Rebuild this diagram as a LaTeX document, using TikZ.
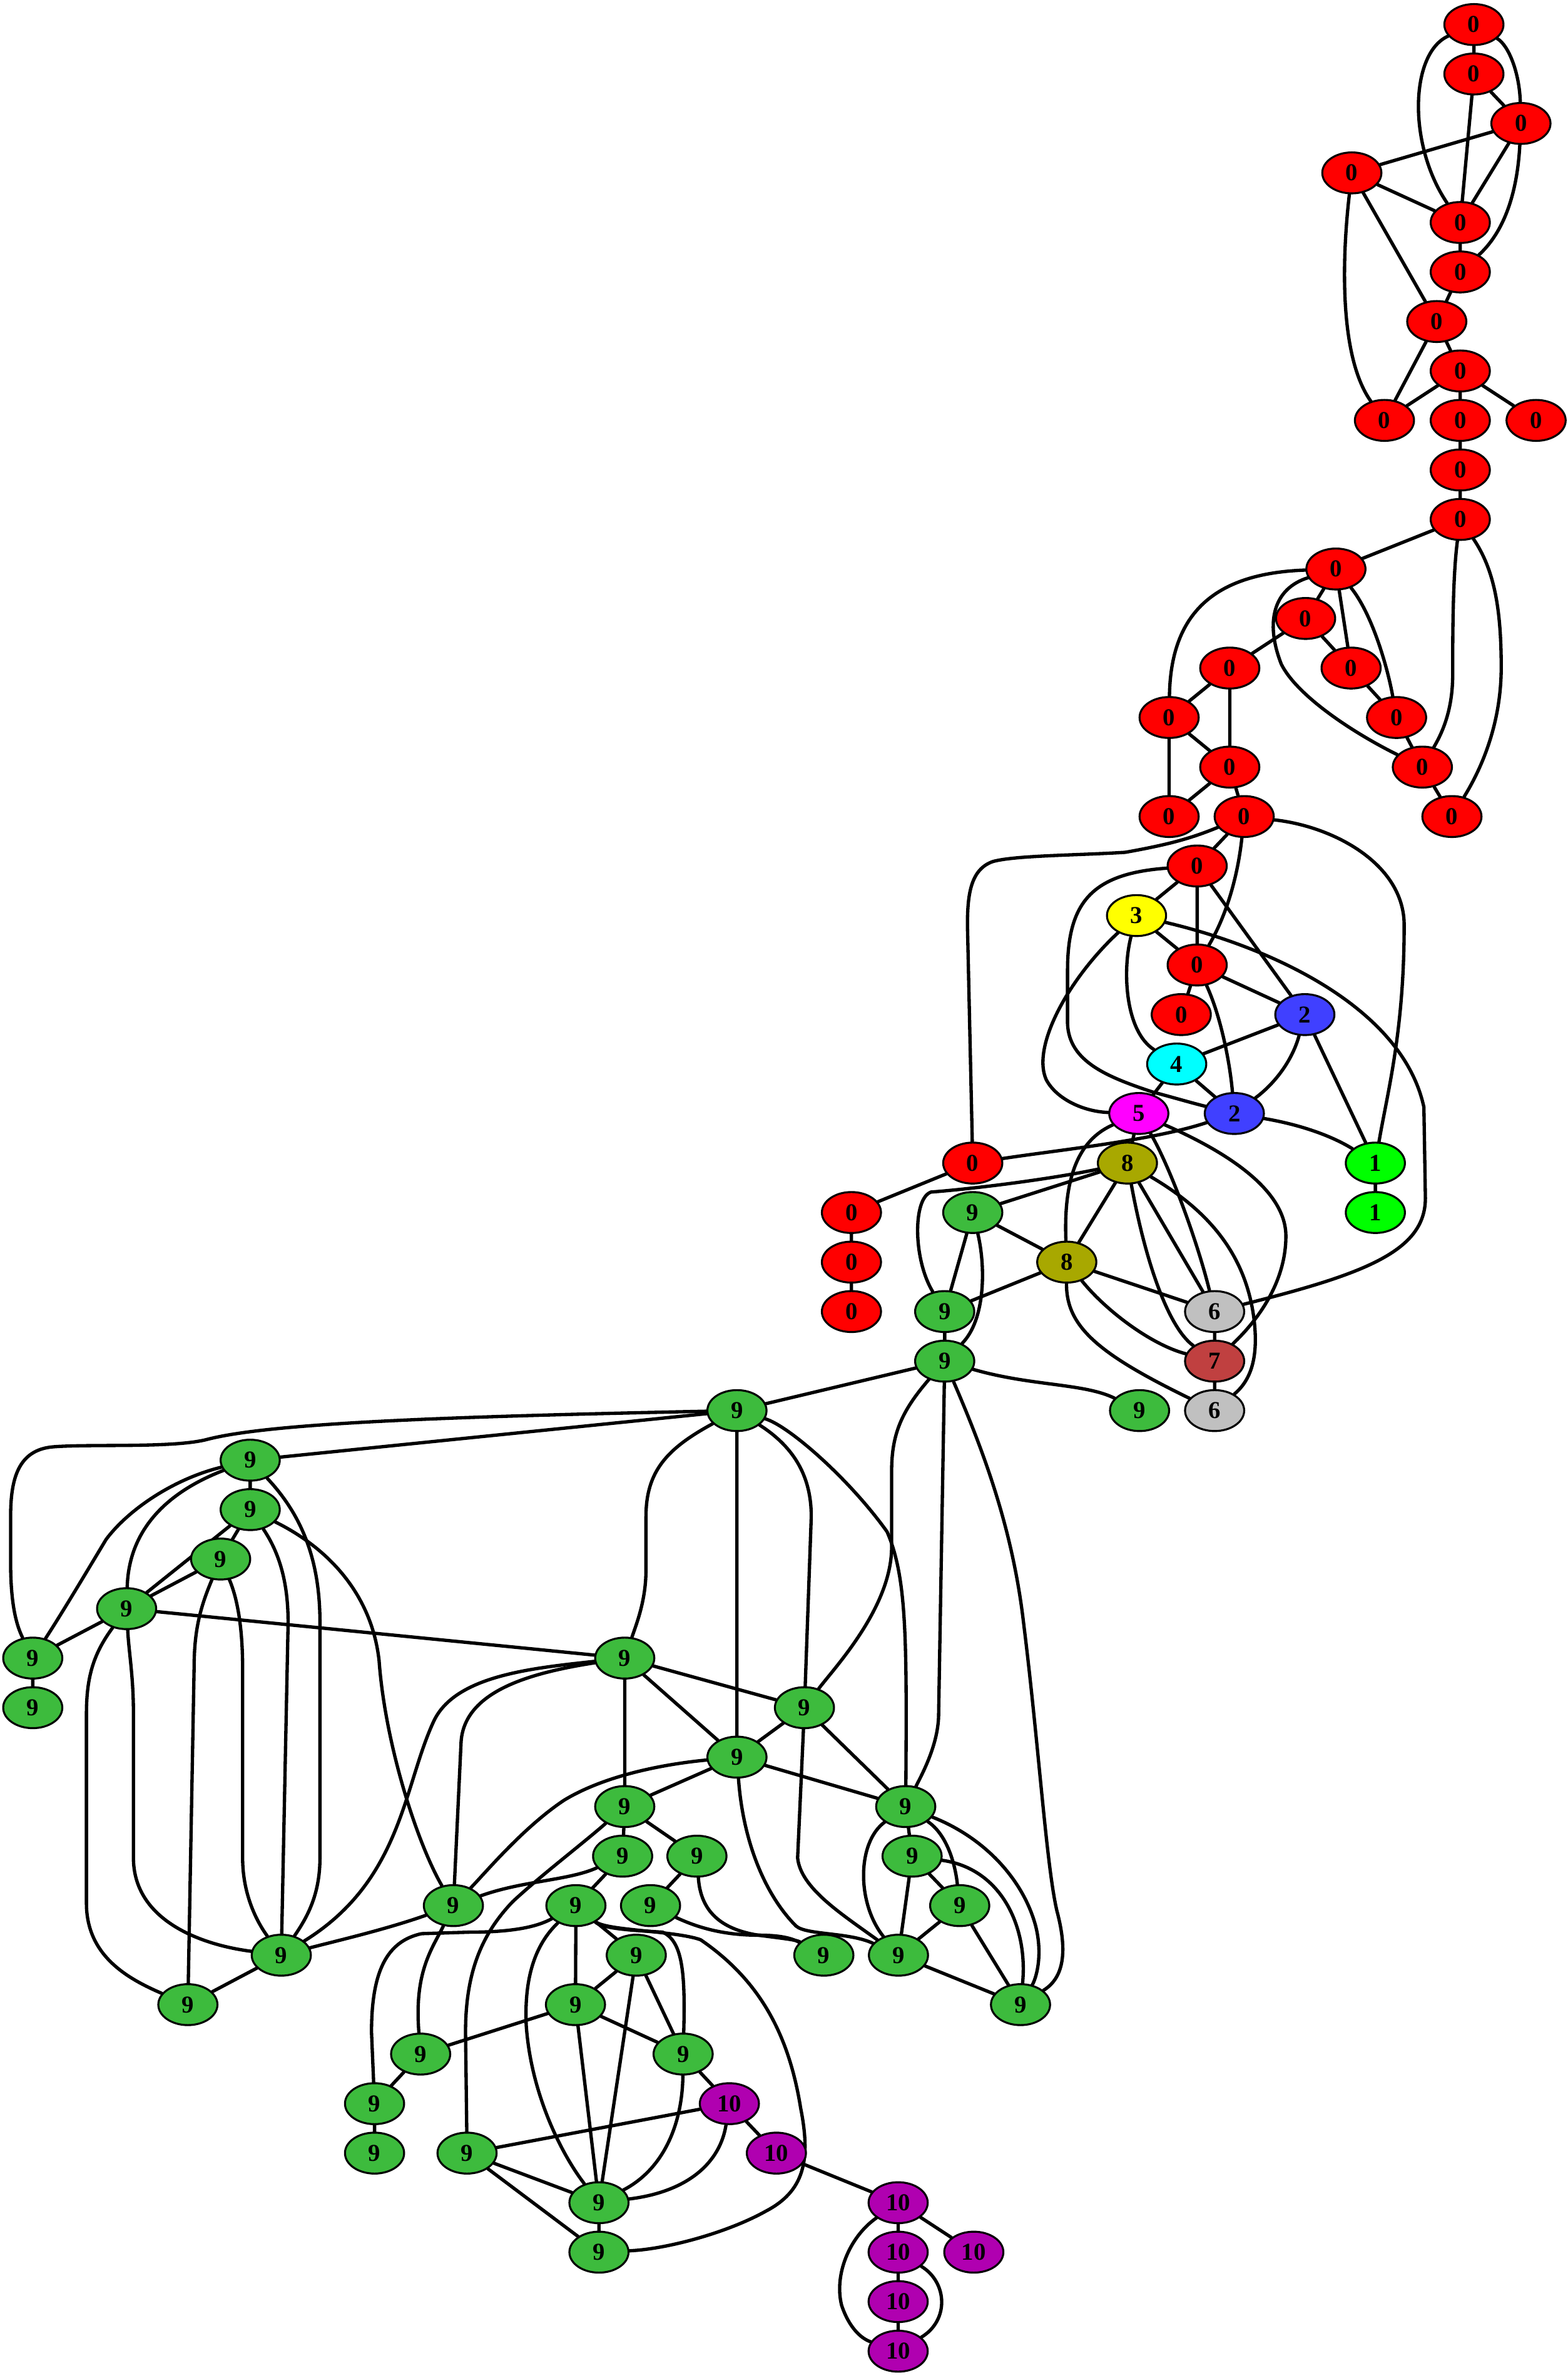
\documentclass[tikz,border=0pt]{standalone}
\usepackage{fontspec}
\setmainfont{Liberation Serif}
\usetikzlibrary{shapes.geometric}
\pgfdeclarelayer{bg}
\pgfsetlayers{bg,main}
\definecolor{cRed}{RGB}{255,0,0}
\definecolor{cYel}{RGB}{255,255,0}
\definecolor{cBlue}{RGB}{64,64,255}
\definecolor{cCyan}{RGB}{0,255,255}
\definecolor{cMag}{RGB}{255,0,255}
\definecolor{cOlive}{RGB}{168,168,0}
\definecolor{cLime}{RGB}{0,255,0}
\definecolor{cGray}{RGB}{192,192,192}
\definecolor{cBrown}{RGB}{192,64,64}
\definecolor{cGreen}{RGB}{61,187,61}
\definecolor{cPurp}{RGB}{176,0,176}
\tikzset{
 nd/.style={ellipse, draw=black, line width=1.3pt, minimum width=39pt, minimum height=27pt, inner sep=0pt, font=\fontsize{16}{16}\selectfont\bfseries},
 nred/.style={nd, fill=cRed},
 nyel/.style={nd, fill=cYel},
 nblue/.style={nd, fill=cBlue},
 ncyan/.style={nd, fill=cCyan},
 nmag/.style={nd, fill=cMag},
 nolive/.style={nd, fill=cOlive},
 nlime/.style={nd, fill=cLime},
 ngray/.style={nd, fill=cGray},
 nbrown/.style={nd, fill=cBrown},
 ngreen/.style={nd, fill=cGreen},
 npurp/.style={nd, fill=cPurp},
 e/.style={line width=2.2pt, line cap=round, line join=round}
}
\begin{document}
\begin{tikzpicture}[x=1pt,y=-1pt]
\useasboundingbox (0,0) rectangle (1034,1568);
% nodes
\node[nred] (A1) at (972,16.2) {0};
\node[nred] (A2) at (972,48.8) {0};
\node[nred] (A3) at (1003,81.4) {0};
\node[nred] (A4) at (891.5,114) {0};
\node[nred] (A5) at (963,146.7) {0};
\node[nred] (A6) at (963,179.3) {0};
\node[nred] (A7) at (947.5,212) {0};
\node[nred] (A8) at (963,244.6) {0};
\node[nred] (A9) at (913,277.2) {0};
\node[nred] (A10) at (963,277.2) {0};
\node[nred] (A11) at (1013,277.2) {0};
\node[nred] (A12) at (963,309.9) {0};
\node[nred] (A13) at (963,342.5) {0};
\node[nred] (B1) at (881,375.2) {0};
\node[nred] (B2) at (861,407.8) {0};
\node[nred] (B3) at (891,440.5) {0};
\node[nred] (B4) at (811,440.5) {0};
\node[nred] (B5) at (921,473.1) {0};
\node[nred] (B6) at (771,473.1) {0};
\node[nred] (B7) at (811,505.8) {0};
\node[nred] (B8) at (938,505.8) {0};
\node[nred] (B9) at (771,538.4) {0};
\node[nred] (B10) at (820.5,538.4) {0};
\node[nred] (B11) at (957.5,538.4) {0};
\node[nred] (C1) at (789.5,571) {0};
\node[nyel] (C2) at (749.5,603.7) {3};
\node[nred] (C3) at (789.5,636.3) {0};
\node[nred] (C4) at (779,669) {0};
\node[nblue] (C5) at (860.5,669) {2};
\node[ncyan] (C6) at (776,701.6) {4};
\node[nmag] (C7) at (751,734.2) {5};
\node[nblue] (C8) at (814,734.2) {2};
\node[nred] (C9) at (641.5,766.9) {0};
\node[nolive] (C10) at (743.5,766.9) {8};
\node[nlime] (C11) at (907,766.9) {1};
\node[nlime] (C12) at (907,799.5) {1};
\node[nred] (C13) at (561.5,799.5) {0};
\node[ngreen] (C14) at (641.5,799.5) {9};
\node[nolive] (C15) at (703.5,832.2) {8};
\node[nred] (C16) at (561.5,832.2) {0};
\node[ngray] (C17) at (801,864.8) {6};
\node[ngreen] (C18) at (623,864.8) {9};
\node[nred] (C19) at (561.5,864.8) {0};
\node[nbrown] (C20) at (801,897.5) {7};
\node[ngreen] (C21) at (623,897.5) {9};
\node[ngreen] (C22) at (751.5,930.1) {9};
\node[ngray] (C23) at (801,930.1) {6};
\node[ngreen] (D1) at (486,930.1) {9};
\node[ngreen] (D2) at (165,962.8) {9};
\node[ngreen] (D3) at (165,995.4) {9};
\node[ngreen] (D4) at (145.5,1028) {9};
\node[ngreen] (D5) at (83.5,1060.7) {9};
\node[ngreen] (D6) at (21.6,1093.3) {9};
\node[ngreen] (D7) at (21.6,1126) {9};
\node[ngreen] (D8) at (412,1093.3) {9};
\node[ngreen] (D9) at (530.5,1126) {9};
\node[ngreen] (D10) at (486,1158.6) {9};
\node[ngreen] (D11) at (412,1191.2) {9};
\node[ngreen] (D12) at (597.3,1191.2) {9};
\node[ngreen] (D13) at (410.6,1223.9) {9};
\node[ngreen] (D14) at (459.6,1223.9) {9};
\node[ngreen] (D15) at (601.5,1223.9) {9};
\node[ngreen] (D16) at (299,1256.5) {9};
\node[ngreen] (D17) at (379.8,1256.5) {9};
\node[ngreen] (D18) at (429,1256.5) {9};
\node[ngreen] (D19) at (632.9,1256.5) {9};
\node[ngreen] (D20) at (185.5,1289.2) {9};
\node[ngreen] (D21) at (419.6,1289.2) {9};
\node[ngreen] (D22) at (543.3,1289.2) {9};
\node[ngreen] (D23) at (592.5,1289.2) {9};
\node[ngreen] (D24) at (123.9,1321.8) {9};
\node[ngreen] (D25) at (379.5,1321.8) {9};
\node[ngreen] (D26) at (673,1321.8) {9};
\node[ngreen] (D27) at (277.4,1354.4) {9};
\node[ngreen] (D28) at (450.5,1354.4) {9};
\node[ngreen] (D29) at (247,1387.1) {9};
\node[npurp] (D30) at (481,1387.1) {10};
\node[ngreen] (D31) at (247,1419.7) {9};
\node[ngreen] (D32) at (308,1419.7) {9};
\node[npurp] (D33) at (512,1419.7) {10};
\node[ngreen] (D34) at (395,1452.4) {9};
\node[npurp] (D35) at (592.3,1452.4) {10};
\node[npurp] (D36) at (592.3,1485) {10};
\node[npurp] (D37) at (642.2,1485) {10};
\node[ngreen] (D38) at (395,1485) {9};
\node[npurp] (D39) at (592.3,1517.6) {10};
\node[npurp] (D40) at (592.3,1550.3) {10};
\begin{pgfonlayer}{bg}
% straight edges
\draw[e] (A1)--(A2) (A2)--(A3) (A2)--(A5) (A3)--(A4) (A3)--(A5) (A4)--(A5) (A4)--(A7) (A5)--(A6) (A6)--(A7) (A7)--(A9) (A7)--(A8) (A8)--(A9) (A8)--(A10) (A8)--(A11) (A10)--(A12) (A12)--(A13) (A13)--(B1);
\draw[e] (B1)--(B2) (B1)--(B3) (B2)--(B4) (B2)--(B3) (B3)--(B5) (B5)--(B8) (B4)--(B6) (B4)--(B7) (B6)--(B7) (B6)--(B9) (B7)--(B9) (B7)--(B10) (B8)--(B11);
\draw[e] (B10)--(C1) (C1)--(C2) (C1)--(C3) (C1)--(C5) (C2)--(C3) (C3)--(C4) (C3)--(C5) (C5)--(C6) (C5)--(C11) (C6)--(C7) (C6)--(C8) (C7)--(C10) (C9)--(C13) (C13)--(C16) (C16)--(C19) (C10)--(C14) (C14)--(C15) (C14)--(C18) (C10)--(C15) (C10)--(C17) (C15)--(C18) (C15)--(C17) (C17)--(C20) (C20)--(C23) (C18)--(C21) (C21)--(D1) (C11)--(C12);
\draw[e] (D1)--(D2) (D1)--(D10) (D2)--(D3) (D3)--(D4) (D3)--(D5) (D4)--(D5) (D5)--(D6) (D5)--(D8) (D6)--(D7) (D8)--(D9) (D8)--(D10) (D8)--(D11) (D9)--(D10) (D9)--(D12) (D10)--(D12) (D10)--(D11) (D11)--(D13) (D11)--(D14) (D13)--(D17) (D14)--(D18) (D17)--(D21) (D17)--(D25) (D12)--(D15) (D15)--(D19) (D15)--(D23) (D19)--(D23) (D19)--(D26) (D23)--(D26) (D21)--(D25) (D21)--(D34) (D21)--(D28) (D25)--(D27) (D25)--(D28) (D25)--(D34) (D27)--(D29) (D28)--(D30) (D29)--(D31) (D30)--(D32) (D30)--(D33) (D32)--(D34) (D32)--(D38) (D34)--(D38) (D33)--(D35) (D35)--(D36) (D35)--(D37) (D36)--(D39) (D39)--(D40) (D20)--(D24);
% curved edges, top
\draw[e] (A1) .. controls (930,35) and (928,95) .. (A5);
\draw[e] (A1) .. controls (995,30) and (1002,48) .. (A3);
\draw[e] (A3) .. controls (1001,120) and (995,150) .. (A6);
\draw[e] (A4) .. controls (885,170) and (883,235) .. (A9);
\draw[e] (A13) .. controls (958,380) and (958,420) .. (958,445) .. controls (958,470) and (950,485) .. (B8);
\draw[e] (A13) .. controls (985,375) and (990,400) .. (990,440) .. controls (990,480) and (975,510) .. (B11);
\draw[e] (B1) .. controls (800,378) and (772,405) .. (B6);
\draw[e] (B1) .. controls (840,388) and (834,410) .. (845,438) .. controls (855,458) and (890,482) .. (B8);
\draw[e] (B1) .. controls (905,405) and (915,440) .. (B5);
% curved edges, middle
\draw[e] (B10) .. controls (785,553) and (770,557) .. (742,562) .. controls (710,564) and (670,564) .. (655,568) .. controls (640,573) and (638,590) .. (638,610) -- (C9);
\draw[e] (B10) .. controls (816,580) and (808,605) .. (C3);
\draw[e] (B10) .. controls (880,545) and (926,570) .. (926,610) .. controls (926,680) and (915,720) .. (C11);
\draw[e] (C1) .. controls (720,576) and (704,595) .. (704,640) -- (704,675) .. controls (705,700) and (730,710) .. (760,720) .. controls (775,724) and (785,727) .. (C8);
\draw[e] (C2) .. controls (740,640) and (742,680) .. (C6);
\draw[e] (C2) .. controls (705,645) and (680,690) .. (690,712) .. controls (697,725) and (715,733) .. (C7);
\draw[e] (C2) .. controls (840,625) and (925,665) .. (939,730) -- (940,790) .. controls (940,825) and (900,840) .. (C17);
\draw[e] (C3) .. controls (805,670) and (811,700) .. (C8);
\draw[e] (C5) .. controls (852,700) and (840,715) .. (C8);
\draw[e] (C8) .. controls (860,742) and (880,750) .. (C11);
\draw[e] (C9) .. controls (700,758) and (760,752) .. (C8);
\draw[e] (C7) .. controls (715,750) and (701,770) .. (C15);
\draw[e] (C7) .. controls (772,770) and (790,820) .. (C17);
\draw[e] (C7) .. controls (810,760) and (848,785) .. (848,815) .. controls (848,845) and (830,870) .. (C20);
\draw[e] (C10) .. controls (690,778) and (640,784) .. (614,786) .. controls (602,790) and (602,830) .. (C18);
\draw[e] (C14) .. controls (650,835) and (650,870) .. (C21);
\draw[e] (C10) .. controls (755,830) and (770,875) .. (C20);
\draw[e] (C10) .. controls (800,800) and (822,830) .. (827,870) .. controls (830,895) and (825,910) .. (C23);
\draw[e] (C15) .. controls (730,865) and (760,887) .. (C20);
\draw[e] (C15) .. controls (703,875) and (725,893) .. (C23);
\draw[e] (C21) .. controls (680,914) and (715,912) .. (C22);
% curved edges, green
\draw[e] (D1) .. controls (300,934) and (180,938) .. (137,949) .. controls (115,955) and (60,952) .. (35,954) .. controls (12,956) and (7,975) .. (7,1000) -- (7,1030) .. controls (7,1055) and (10,1070) .. (D6);
\draw[e] (D2) .. controls (115,975) and (85,995) .. (70,1015) .. controls (55,1040) and (40,1065) .. (D6);
\draw[e] (D2) .. controls (115,982) and (85,1005) .. (D5);
\draw[e] (D2) .. controls (200,1000) and (211,1030) .. (211,1070) -- (211,1225) .. controls (211,1250) and (202,1265) .. (D20);
\draw[e] (D3) .. controls (215,1020) and (245,1050) .. (250,1095) .. controls (254,1150) and (275,1215) .. (D16);
\draw[e] (D3) .. controls (185,1025) and (190,1045) .. (190,1070) -- (D20);
\draw[e] (D4) .. controls (132,1060) and (128,1075) .. (128,1100) -- (D24);
\draw[e] (D4) .. controls (157,1055) and (160,1075) .. (160,1100) -- (160,1225) .. controls (160,1250) and (170,1268) .. (D20);
\draw[e] (D5) .. controls (62,1090) and (57,1105) .. (57,1130) -- (57,1255) .. controls (57,1290) and (85,1305) .. (D24);
\draw[e] (D5) .. controls (85,1090) and (88,1105) .. (88,1130) -- (88,1225) .. controls (88,1265) and (130,1282) .. (D20);
\draw[e] (D1) .. controls (440,955) and (426,970) .. (426,1000) -- (426,1035) .. controls (426,1055) and (420,1070) .. (D8);
\draw[e] (D1) .. controls (525,955) and (535,975) .. (535,1000) -- (D9);
\draw[e] (D1) .. controls (520,940) and (560,975) .. (585,1010) .. controls (598,1040) and (598,1080) .. (D12);
\draw[e] (C21) .. controls (595,930) and (588,945) .. (588,970) -- (588,1020) .. controls (588,1060) and (550,1100) .. (D9);
\draw[e] (C21) -- (619,1130) .. controls (619,1150) and (608,1170) .. (D12);
\draw[e] (C21) .. controls (650,960) and (668,1010) .. (675,1070) .. controls (685,1150) and (690,1230) .. (697,1260) .. controls (705,1290) and (700,1305) .. (D26);
\draw[e] (D8) .. controls (350,1103) and (305,1115) .. (304,1150) -- (D16);
\draw[e] (D8) .. controls (350,1100) and (300,1105) .. (286,1135) .. controls (266,1178) and (265,1240) .. (D20);
\draw[e] (D9) -- (526,1225) .. controls (528,1245) and (555,1262) .. (D23);
\draw[e] (D10) .. controls (490,1215) and (505,1250) .. (525,1270) .. controls (532,1276) and (560,1274) .. (D23);
\draw[e] (D10) .. controls (440,1163) and (400,1170) .. (372,1187) .. controls (345,1205) and (320,1235) .. (D16);
\draw[e] (D11) .. controls (385,1215) and (355,1238) .. (338,1254) .. controls (318,1275) and (307,1300) .. (307,1340) -- (D32);
\draw[e] (D13) .. controls (375,1240) and (345,1240) .. (D16);
\draw[e] (D14) .. controls (462,1260) and (475,1272) .. (500,1276) .. controls (515,1278) and (525,1279) .. (D22);
\draw[e] (D18) .. controls (458,1270) and (475,1276) .. (500,1276) .. controls (515,1276) and (522,1278) .. (D22);
\draw[e] (D17) .. controls (398,1272) and (420,1273) .. (437,1274) .. controls (450,1280) and (452,1300) .. (D28);
\draw[e] (D17) .. controls (400,1273) and (445,1273) .. (462,1279) .. controls (500,1305) and (520,1340) .. (528,1390) .. controls (535,1425) and (530,1445) .. (505,1458) .. controls (480,1472) and (440,1483) .. (D38);
\draw[e] (D17) .. controls (355,1270) and (340,1274) .. (310,1274) -- (278,1275) .. controls (255,1280) and (245,1300) .. (245,1340) -- (D29);
\draw[e] (D16) .. controls (285,1285) and (273,1300) .. (D27);
\draw[e] (D20) .. controls (225,1279) and (255,1272) .. (D16);
\draw[e] (D17) .. controls (350,1285) and (346,1310) .. (347,1335) .. controls (350,1380) and (370,1420) .. (D34);
\draw[e] (D28) .. controls (450,1400) and (438,1430) .. (D34);
\draw[e] (D30) .. controls (475,1425) and (455,1445) .. (D34);
\draw[e] (D35) .. controls (560,1475) and (550,1500) .. (555,1520) .. controls (560,1535) and (568,1542) .. (D40);
\draw[e] (D36) .. controls (625,1505) and (626,1530) .. (D40);
\draw[e] (D12) .. controls (565,1215) and (565,1255) .. (D23);
\draw[e] (D12) .. controls (625,1210) and (630,1230) .. (D19);
\draw[e] (D12) .. controls (650,1212) and (675,1240) .. (683,1270) .. controls (688,1290) and (683,1305) .. (D26);
\draw[e] (D15) .. controls (660,1232) and (678,1270) .. (D26);
\end{pgfonlayer}
\end{tikzpicture}
\end{document}
